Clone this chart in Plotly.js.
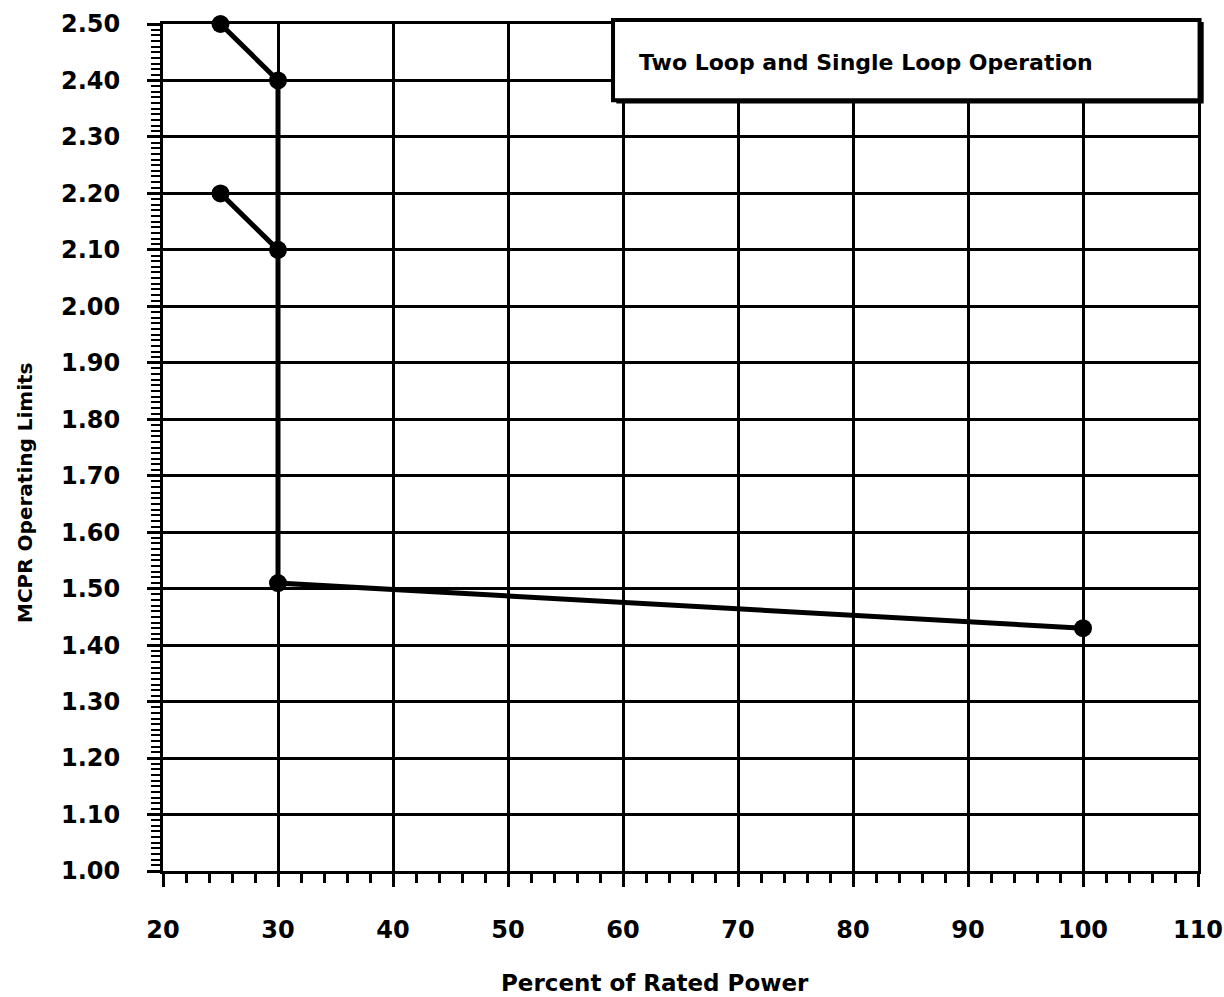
<!DOCTYPE html>
<html>
<head>
<meta charset="utf-8">
<script src="https://cdn.plot.ly/plotly-3.0.1.min.js"></script>
<style>
html,body{margin:0;padding:0;background:#fff;}
#chart{width:1224px;height:997px;}
</style>
</head>
<body>
<div id="chart"></div>
<script>
// Data
const upperX = [25, 30, 30, 100];
const upperY = [2.50, 2.40, 1.51, 1.43];
const lowerX = [25, 30];
const lowerY = [2.20, 2.10];

const xTickVals = [20, 30, 40, 50, 60, 70, 80, 90, 100, 110];
const xTickText = ['20', '30', '40', '50', '60', '70', '80', '90', '100', '110'];
const yTickVals = [1.0, 1.1, 1.2, 1.3, 1.4, 1.5, 1.6, 1.7, 1.8, 1.9, 2.0, 2.1, 2.2, 2.3, 2.4, 2.5];
const yTickText = ['1.00', '1.10', '1.20', '1.30', '1.40', '1.50', '1.60', '1.70', '1.80', '1.90', '2.00', '2.10', '2.20', '2.30', '2.40', '2.50'];

const legendText = 'Two Loop and Single Loop Operation';
const xTitle = 'Percent of Rated Power';
const yTitle = 'MCPR Operating Limits';

const FONT = 'DejaVu Sans, Verdana, sans-serif';

const lineStyle = {color: '#000', width: 5};
const markerStyle = {color: '#000', size: 18};

const traces = [
  {x: upperX, y: upperY, mode: 'lines+markers', line: lineStyle, marker: markerStyle, showlegend: false, cliponaxis: false, hoverinfo: 'x+y'},
  {x: lowerX, y: lowerY, mode: 'lines+markers', line: lineStyle, marker: markerStyle, showlegend: false, cliponaxis: false, hoverinfo: 'x+y'}
];

const layout = {
  width: 1224,
  height: 997,
  margin: {l: 163, r: 26, t: 24, b: 126},
  paper_bgcolor: '#fff',
  plot_bgcolor: '#fff',
  font: {family: FONT, color: '#000'},
  xaxis: {
    range: [20, 110],
    tickmode: 'array',
    tickvals: xTickVals,
    ticktext: xTickText,
    showgrid: true,
    gridcolor: '#000',
    gridwidth: 3,
    zeroline: false,
    showline: true,
    linecolor: '#000',
    linewidth: 3,
    mirror: true,
    ticks: 'outside',
    ticklen: 13,
    tickwidth: 3,
    tickcolor: '#000',
    ticklabelstandoff: 22,
    tickfont: {family: FONT, size: 24, color: '#000', weight: 'bold'},
    minor: {dtick: 2, tick0: 20, ticks: 'outside', ticklen: 9, tickwidth: 3, tickcolor: '#000', showgrid: false}
  },
  yaxis: {
    range: [1.0, 2.5],
    tickmode: 'array',
    tickvals: yTickVals,
    ticktext: yTickText,
    showgrid: true,
    gridcolor: '#000',
    gridwidth: 3,
    zeroline: false,
    showline: true,
    linecolor: '#000',
    linewidth: 3,
    mirror: true,
    ticks: 'outside',
    ticklen: 13,
    tickwidth: 3,
    tickcolor: '#000',
    ticklabelstandoff: 22,
    tickfont: {family: FONT, size: 24, color: '#000', weight: 'bold'},
    minor: {dtick: 0.01, tick0: 1.0, ticks: 'outside', ticklen: 9, tickwidth: 2, tickcolor: '#000', showgrid: false}
  },
  shapes: [
    {type: 'rect', xref: 'paper', yref: 'paper', x0: 0.438, x1: 1.0055, y0: 0.906, y1: 1.0025,
     fillcolor: '#000', line: {color: '#000', width: 0}, layer: 'above'},
    {type: 'rect', xref: 'paper', yref: 'paper', x0: 0.4348, x1: 1.0015, y0: 0.91, y1: 1.0047,
     fillcolor: '#fff', line: {color: '#000', width: 4}, layer: 'above'}
  ],
  annotations: [
    {xref: 'paper', yref: 'paper', x: 0.458, y: 0.954, xanchor: 'left', yanchor: 'middle',
     text: '<b>' + legendText + '</b>', showarrow: false, font: {family: FONT, size: 22, color: '#000'}},
    {xref: 'paper', yref: 'paper', x: -0.1333, y: 0.4463, xanchor: 'center', yanchor: 'middle', textangle: -90,
     text: '<b>' + yTitle + '</b>', showarrow: false, font: {family: FONT, size: 20, color: '#000'}},
    {xref: 'paper', yref: 'paper', x: 0.475, y: -0.1322, xanchor: 'center', yanchor: 'middle',
     text: '<b>' + xTitle + '</b>', showarrow: false, font: {family: FONT, size: 23, color: '#000'}}
  ]
};

Plotly.newPlot('chart', traces, layout, {displayModeBar: false, staticPlot: true});
</script>
</body>
</html>
